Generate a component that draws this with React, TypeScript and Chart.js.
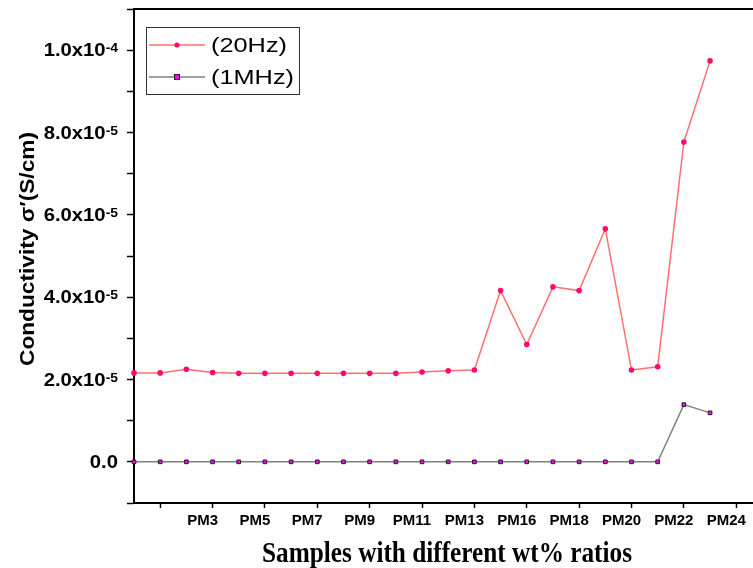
import React, { useEffect, useRef } from 'react';
import { Chart, registerables } from 'chart.js';

Chart.register(...registerables);

// Sample positions along the x axis (index of each measured sample)
const SAMPLE_POS = [0, 1, 2, 3, 4, 5, 6, 7, 8, 9, 10, 11, 12, 13, 14, 15, 16, 17, 18, 19, 20, 21, 22];

// Conductivity σ' (S/cm) at 20 Hz
const COND_20HZ = [
  2.16e-5, 2.16e-5, 2.25e-5, 2.17e-5, 2.15e-5, 2.15e-5, 2.15e-5, 2.15e-5, 2.15e-5, 2.15e-5,
  2.15e-5, 2.18e-5, 2.21e-5, 2.23e-5, 4.16e-5, 2.85e-5, 4.25e-5, 4.16e-5, 5.66e-5, 2.23e-5,
  2.31e-5, 7.77e-5, 9.74e-5,
];

// Conductivity σ' (S/cm) at 1 MHz
const COND_1MHZ = [
  0, 0, 0, 0, 0, 0, 0, 0, 0, 0,
  0, 0, 0, 0, 0, 0, 0, 0, 0, 0,
  0, 1.39e-5, 1.19e-5,
];

const SERIES_NAMES = ['(20Hz)', '(1MHz)'];

const X_TICK_POS = [1, 3, 5, 7, 9, 11, 13, 15, 17, 19, 21, 23];
const X_TICK_LABELS = ['', 'PM3', 'PM5', 'PM7', 'PM9', 'PM11', 'PM13', 'PM16', 'PM18', 'PM20', 'PM22', 'PM24'];

const Y_TICK_VALUES = [0, 2e-5, 4e-5, 6e-5, 8e-5, 1e-4];
const Y_TICK_BASE = ['0.0', '2.0x10', '4.0x10', '6.0x10', '8.0x10', '1.0x10'];
const Y_TICK_EXP = ['', '-5', '-5', '-5', '-5', '-4'];

const X_TITLE = 'Samples with different wt% ratios';
const Y_TITLE = 'Conductivity σ′(S/cm)';

const SANS = '"Liberation Sans", Arial, sans-serif';
const SERIF = '"Liberation Serif", "Times New Roman", serif';

const C20_LINE = '#ff7070';
const C20_POINT = '#ff0a6c';
const C1M_LINE = '#808080';
const C1M_POINT = '#ff00ff';

function drawScaled(ctx: CanvasRenderingContext2D, text: string, x: number, y: number, font: string, align: CanvasTextAlign, sx: number, baseline: CanvasTextBaseline = 'alphabetic') {
  ctx.save();
  ctx.translate(x, y);
  ctx.scale(sx, 1);
  ctx.font = font;
  ctx.textAlign = align;
  ctx.textBaseline = baseline;
  ctx.fillText(text, 0, 0);
  ctx.restore();
}

const decorPlugin = {
  id: 'decor',
  afterDraw(chart: any) {
    const ctx: CanvasRenderingContext2D = chart.ctx;
    const { left, top } = chart.chartArea;
    const ys = chart.scales.y;
    ctx.save();
    ctx.fillStyle = '#000';

    // top frame line
    ctx.strokeStyle = '#000';
    ctx.lineWidth = 2;
    ctx.beginPath();
    ctx.moveTo(left - 1, top);
    ctx.lineTo(chart.width, top);
    ctx.stroke();

    // y tick labels with superscript exponents
    const baseFont = `bold 17.5px ${SANS}`;
    const expFont = `bold 12px ${SANS}`;
    ctx.font = baseFont;
    const sx = 62 / ctx.measureText('1.0x10').width;
    Y_TICK_VALUES.forEach((v, i) => {
      const y = ys.getPixelForValue(v);
      const xr = 118;
      let ew = 0;
      if (Y_TICK_EXP[i]) {
        ctx.font = expFont;
        ew = ctx.measureText(Y_TICK_EXP[i]).width * sx;
        drawScaled(ctx, Y_TICK_EXP[i], xr, y + 2, expFont, 'right', sx);
      }
      drawScaled(ctx, Y_TICK_BASE[i], xr - ew, y + 6.3, baseFont, 'right', sx);
    });

    // y title
    const yFont = `bold 21px ${SANS}`;
    ctx.font = yFont;
    const yw = ctx.measureText(Y_TITLE).width;
    ctx.save();
    ctx.translate(28, 249);
    ctx.rotate(-Math.PI / 2);
    ctx.scale(234 / yw, 1);
    ctx.font = yFont;
    ctx.textAlign = 'center';
    ctx.textBaseline = 'middle';
    ctx.fillText(Y_TITLE, 0, 0);
    ctx.restore();

    // x title
    const xFont = `bold 29px ${SERIF}`;
    ctx.font = xFont;
    const xw = ctx.measureText(X_TITLE).width;
    drawScaled(ctx, X_TITLE, 447, 562, xFont, 'center', 370 / xw);

    // legend
    ctx.fillStyle = '#fff';
    ctx.fillRect(146, 27, 153, 67);
    ctx.strokeStyle = '#333';
    ctx.lineWidth = 1;
    ctx.strokeRect(146.5, 27.5, 153, 67);
    const legFont = `21px ${SANS}`;
    ctx.font = legFont;
    const lsx = 76 / ctx.measureText(SERIES_NAMES[0]).width;
    const rows = [45, 77];
    rows.forEach((ry, i) => {
      ctx.strokeStyle = i === 0 ? C20_LINE : C1M_LINE;
      ctx.lineWidth = 1.5;
      ctx.beginPath();
      ctx.moveTo(149, ry);
      ctx.lineTo(205, ry);
      ctx.stroke();
      if (i === 0) {
        ctx.fillStyle = C20_POINT;
        ctx.beginPath();
        ctx.arc(177, ry, 2.6, 0, Math.PI * 2);
        ctx.fill();
      } else {
        ctx.fillStyle = C1M_POINT;
        ctx.fillRect(174.5, ry - 2.5, 5, 5);
        ctx.strokeStyle = '#222';
        ctx.lineWidth = 1;
        ctx.strokeRect(174.5, ry - 2.5, 5, 5);
      }
      ctx.fillStyle = '#000';
      drawScaled(ctx, SERIES_NAMES[i], 211, ry + 1, legFont, 'left', lsx, 'middle');
    });

    ctx.restore();
  },
};

export default function App() {
  const ref = useRef<HTMLCanvasElement | null>(null);

  useEffect(() => {
    if (!ref.current) return;
    const chart = new Chart(ref.current, {
      type: 'line',
      data: {
        datasets: [
          {
            label: SERIES_NAMES[0],
            data: SAMPLE_POS.map((x, i) => ({ x, y: COND_20HZ[i] })),
            borderColor: C20_LINE,
            borderWidth: 1.5,
            backgroundColor: C20_POINT,
            pointStyle: 'circle',
            pointRadius: 2.8,
            pointBorderWidth: 0,
            pointBackgroundColor: C20_POINT,
            tension: 0,
            clip: false as any,
          },
          {
            label: SERIES_NAMES[1],
            data: SAMPLE_POS.map((x, i) => ({ x, y: COND_1MHZ[i] })),
            borderColor: C1M_LINE,
            borderWidth: 1.5,
            backgroundColor: C1M_POINT,
            pointStyle: 'rect',
            pointRadius: 2.6,
            pointBorderWidth: 1,
            pointBorderColor: '#222',
            pointBackgroundColor: C1M_POINT,
            tension: 0,
            clip: false as any,
          },
        ],
      },
      options: {
        responsive: false,
        animation: false,
        devicePixelRatio: 1,
        layout: { autoPadding: false, padding: { top: 9, left: 0, right: 0, bottom: 0 } },
        plugins: { legend: { display: false }, tooltip: { enabled: false } },
        scales: {
          x: {
            type: 'linear',
            min: 0,
            max: 23.64,
            afterFit: (s: any) => { s.height = 65; s.paddingRight = 0; s.paddingLeft = 0; },
            afterBuildTicks: (s: any) => { s.ticks = X_TICK_POS.map((v) => ({ value: v })); },
            grid: { drawOnChartArea: false, drawTicks: true, tickLength: 5, tickWidth: 1.5, tickColor: '#000' },
            border: { color: '#000', width: 2 },
            ticks: {
              autoSkip: false,
              maxRotation: 0,
              minRotation: 0,
              labelOffset: -10,
              padding: 4,
              color: '#000',
              font: { family: SANS, weight: 'bold', size: 15 },
              callback: (v: any) => {
                const idx = X_TICK_POS.indexOf(Number(v));
                return idx >= 0 ? X_TICK_LABELS[idx] : '';
              },
            },
          },
          y: {
            type: 'linear',
            min: -1e-5,
            max: 1.1e-4,
            afterFit: (s: any) => { s.width = 134; s.paddingTop = 0; s.paddingBottom = 0; },
            grid: { drawOnChartArea: false, drawTicks: true, tickLength: 7, tickWidth: 1.5, tickColor: '#000' },
            border: { color: '#000', width: 2 },
            ticks: { stepSize: 1e-5, callback: () => '', font: { size: 10 } },
          },
        },
      },
      plugins: [decorPlugin],
    });
    return () => chart.destroy();
  }, []);

  return (
    <div style={{ position: 'fixed', left: 0, top: 0, width: 753, height: 568, background: '#fff' }}>
      <canvas ref={ref} width={753} height={568} style={{ display: 'block' }} />
    </div>
  );
}
